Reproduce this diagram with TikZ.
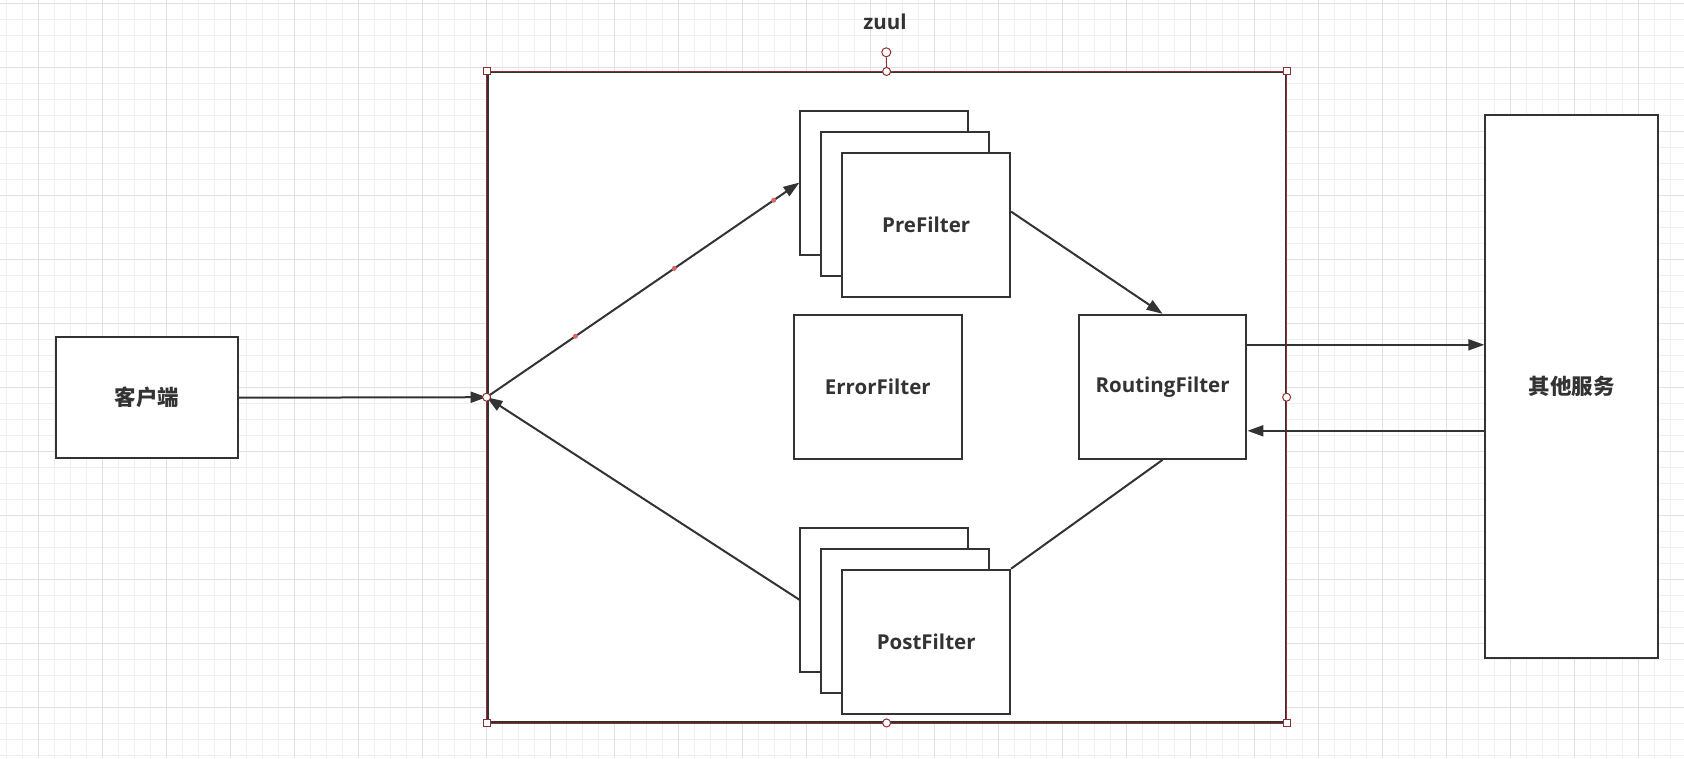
\documentclass[tikz,border=0pt]{standalone}
\usepackage{fontspec}
\setmainfont{Open Sans}
\newfontfamily\cjk{Noto Sans CJK SC}
\usepackage{tikz}
\usetikzlibrary{arrows.meta}
\definecolor{dgray}{HTML}{333333}
\definecolor{hred}{HTML}{8E2F2F}
\definecolor{gridlt}{HTML}{EFEFEF}
\definecolor{griddk}{HTML}{E1E1E1}
\definecolor{wpred}{HTML}{E06464}
\tikzset{
  box/.style={draw=dgray, line width=2pt, fill=white, inner sep=0pt, text=dgray,
    font=\fontsize{20.5}{24}\selectfont\bfseries},
  fbox/.style={box, minimum width=167.7pt, minimum height=144pt},
  link/.style={draw=dgray, line width=2pt},
  arr/.style={link, -{Triangle[length=16pt,width=11pt]}},
  hsq/.style={draw=hred, fill=white, line width=1pt, minimum size=7pt, inner sep=0pt},
  hci/.style={hsq, circle, minimum size=8pt},
  wpt/.style={circle, fill=wpred, inner sep=0pt, minimum size=5pt},
}

\begin{document}
\begin{tikzpicture}[x=1pt, y=-1pt]
\useasboundingbox (0,0) rectangle (1684,758);
\clip (0,0) rectangle (1684,758);
\fill[white] (0,0) rectangle (1684,758);
\foreach \i in {0,...,105} {
    \draw[gridlt, line width=1pt] ({6.7+16*\i},0) -- ({6.7+16*\i},758);
}
\foreach \i in {0,...,47} {
    \draw[gridlt, line width=1pt] (0,{3.3+16*\i}) -- (1684,{3.3+16*\i});
}
\foreach \i in {0,...,26} {
    \draw[griddk, line width=1pt] ({38.7+64*\i},0) -- ({38.7+64*\i},758);
}
\foreach \i in {0,...,11} {
    \draw[griddk, line width=1pt] (0,{3.3+64*\i}) -- (1684,{3.3+64*\i});
}

\node[box, minimum width=798pt, minimum height=649.5pt] (zuul) at (886.6,397.2) {};
\draw[hred, line width=.5pt] (zuul.north west) rectangle (zuul.south east);
\node[text=dgray, font=\fontsize{20.5}{24}\selectfont\bfseries] (zlabel) at (885,22) {zuul};

\node[box, minimum width=182pt, minimum height=120.7pt] (cli) at (147,397.7) {\cjk\fontsize{21.5}{24}\selectfont 客户端};
\node[box, minimum width=173pt, minimum height=543.4pt] (svc) at (1571.8,386.7) {\cjk\fontsize{21.5}{24}\selectfont 其他服务};

\node[fbox] (preback) at (884.2,182.6) {};
\node[fbox] (premid) at (905.2,203.6) {};
\node[fbox] (pre) at (926.2,224.6) {PreFilter};
\node[fbox] (err) at (877.8,387) {ErrorFilter};
\node[fbox] (route) at (1162.6,386.8) {RoutingFilter};
\node[fbox] (postback) at (884.2,599.7) {};
\node[fbox] (postmid) at (905.2,620.7) {};
\node[fbox] (post) at (926.2,641.7) {PostFilter};

\draw[arr] (cli.east) -- (zuul.west);
\draw[arr] (zuul.west) -- (preback.west)
    node[wpt, pos=.284] (wp1) {} node[wpt, pos=.6] (wp2) {} node[wpt, pos=.918] (wp3) {};
\draw[arr] ([yshift=13pt]pre.east) -- (route.north);
\draw[link] (route.south) -- (post.north east);
\draw[arr] (postback.west) -- (zuul.west);
\coordinate (rtout) at ([yshift=42pt]route.east);
\coordinate (rtin) at ([yshift=-44pt]route.east);
\draw[arr] (rtout) -- (rtout -| svc.west);
\draw[arr] (rtin -| svc.west) -- (rtin);

\foreach \a in {north west,north east,south west,south east} {
    \node[hsq] (hs-\a) at (zuul.\a) {};
}
\foreach \a in {north,south,east,west} {
    \node[hci] (hc-\a) at (zuul.\a) {};
}
\node[hci, minimum size=9pt] (rot) at (886.3,52.3) {};
\draw[hred, line width=1pt] (rot) -- (hc-north);
\end{tikzpicture}
\end{document}
